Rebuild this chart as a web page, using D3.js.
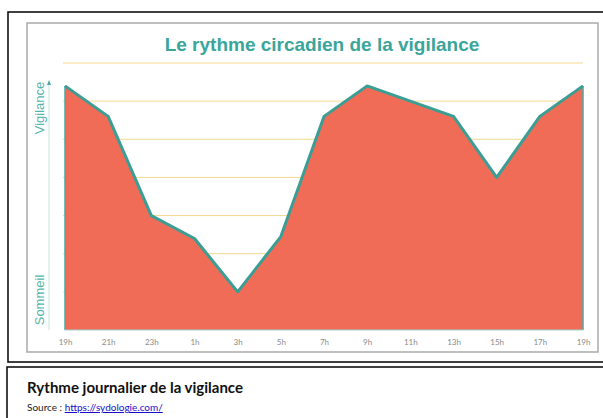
<!DOCTYPE html>
<html>
<head>
<meta charset="utf-8">
<script src="https://d3js.org/d3.v7.min.js"></script>
<style>
  body { margin: 0; background: #fff; }
</style>
</head>
<body>
<script>
// hours along the x axis (every 2h, over 24h)
var hours = ["19h", "21h", "23h", "1h", "3h", "5h", "7h", "9h", "11h", "13h", "15h", "17h", "19h"];
// vigilance level (0 = baseline, gridlines at 1..7)
var vigilance = [6.4, 5.6, 3.0, 2.4, 1.0, 2.45, 5.6, 6.4, 6.0, 5.6, 4.0, 5.6, 6.4];
var gridLevels = [1, 2, 3, 4, 5, 6, 7];

var W = 603, H = 418;

var svg = d3.select("body").append("svg")
    .attr("width", W)
    .attr("height", H);

// outer frames (document boxes)
svg.append("rect")
    .attr("x", 8).attr("y", 12)
    .attr("width", 620).attr("height", 350)
    .attr("fill", "none").attr("stroke", "#111").attr("stroke-width", 1.6);

svg.append("rect")
    .attr("x", 7).attr("y", 367)
    .attr("width", 620).attr("height", 80)
    .attr("fill", "none").attr("stroke", "#111").attr("stroke-width", 1.6);

// inner image frame
svg.append("rect")
    .attr("x", 27).attr("y", 23)
    .attr("width", 571).attr("height", 329)
    .attr("fill", "#fff").attr("stroke", "#aaa").attr("stroke-width", 1.5);

// scales
var x = d3.scalePoint().domain(d3.range(hours.length)).range([65, 583]);
var y = d3.scaleLinear().domain([0, 7]).range([330, 63]);

// gridlines
svg.append("g").selectAll("line")
    .data(gridLevels)
  .enter().append("line")
    .attr("x1", 63).attr("x2", 583)
    .attr("y1", function(d) { return y(d); })
    .attr("y2", function(d) { return y(d); })
    .attr("stroke", "#f4d98e")
    .attr("stroke-width", 1);

// area
var area = d3.area()
    .x(function(d, i) { return x(i); })
    .y0(y(0))
    .y1(function(d) { return y(d); });

svg.append("path")
    .datum(vigilance)
    .attr("d", area)
    .attr("fill", "#f06c57");

// side edges of the area
svg.append("g").selectAll("line")
    .data([0, vigilance.length - 1])
  .enter().append("line")
    .attr("x1", function(i) { return x(i); })
    .attr("x2", function(i) { return x(i); })
    .attr("y1", function(i) { return y(vigilance[i]); })
    .attr("y2", y(0))
    .attr("stroke", "#4aa9a0")
    .attr("stroke-width", 1.5);

svg.append("line")
    .attr("x1", x(0)).attr("x2", x(hours.length - 1))
    .attr("y1", y(0)).attr("y2", y(0))
    .attr("stroke", "#9fd3cd").attr("stroke-width", 1);

// top line
var line = d3.line()
    .x(function(d, i) { return x(i); })
    .y(function(d) { return y(d); });

svg.append("path")
    .datum(vigilance)
    .attr("d", line)
    .attr("fill", "none")
    .attr("stroke", "#3b9e95")
    .attr("stroke-width", 3)
    .attr("stroke-linejoin", "round");

// x axis labels
var xAxis = d3.axisBottom(x)
    .tickSize(0)
    .tickPadding(9)
    .tickFormat(function(i) { return hours[i]; });

var gx = svg.append("g")
    .attr("transform", "translate(0," + y(0) + ")")
    .call(xAxis);
gx.select(".domain").remove();
gx.selectAll("text")
    .attr("fill", "#8a8a8a")
    .style("font-family", "Lato, sans-serif")
    .style("font-size", "8px");

// vertical axis with arrow
svg.append("line")
    .attr("x1", 49).attr("x2", 49)
    .attr("y1", 84).attr("y2", y(0))
    .attr("stroke", "#cfe9e6").attr("stroke-width", 1.2);
svg.append("path")
    .attr("d", "M49,80 L47,85 L51,85 Z")
    .attr("fill", "#4aa9a0");

svg.append("text")
    .attr("transform", "translate(44,108) rotate(-90)")
    .attr("text-anchor", "middle")
    .attr("fill", "#55b5ac")
    .style("font-family", "Liberation Sans, Arial, sans-serif")
    .style("font-size", "13px")
    .text("Vigilance");

svg.append("text")
    .attr("transform", "translate(44,300) rotate(-90)")
    .attr("text-anchor", "middle")
    .attr("fill", "#55b5ac")
    .style("font-family", "Liberation Sans, Arial, sans-serif")
    .style("font-size", "13px")
    .text("Sommeil");

// title of the image
svg.append("text")
    .attr("x", 322).attr("y", 51)
    .attr("text-anchor", "middle")
    .attr("fill", "#3aa59a")
    .style("font-family", "Liberation Sans, Arial, sans-serif")
    .style("font-weight", "bold")
    .style("font-size", "19px")
    .text("Le rythme circadien de la vigilance");

// caption
svg.append("text")
    .attr("x", 27).attr("y", 393)
    .attr("fill", "#111")
    .attr("textLength", 216)
    .attr("lengthAdjust", "spacingAndGlyphs")
    .style("font-family", "Lato, sans-serif")
    .style("font-weight", "bold")
    .style("font-size", "16px")
    .text("Rythme journalier de la vigilance");

var src = svg.append("text")
    .attr("x", 27).attr("y", 411)
    .style("font-family", "Lato, sans-serif")
    .style("font-size", "10px");
src.append("tspan").attr("fill", "#222").text("Source :  ");
src.append("tspan")
    .attr("fill", "#1a0dcc")
    .style("text-decoration", "underline")
    .text("https://sydologie.com/");
</script>
</body>
</html>
